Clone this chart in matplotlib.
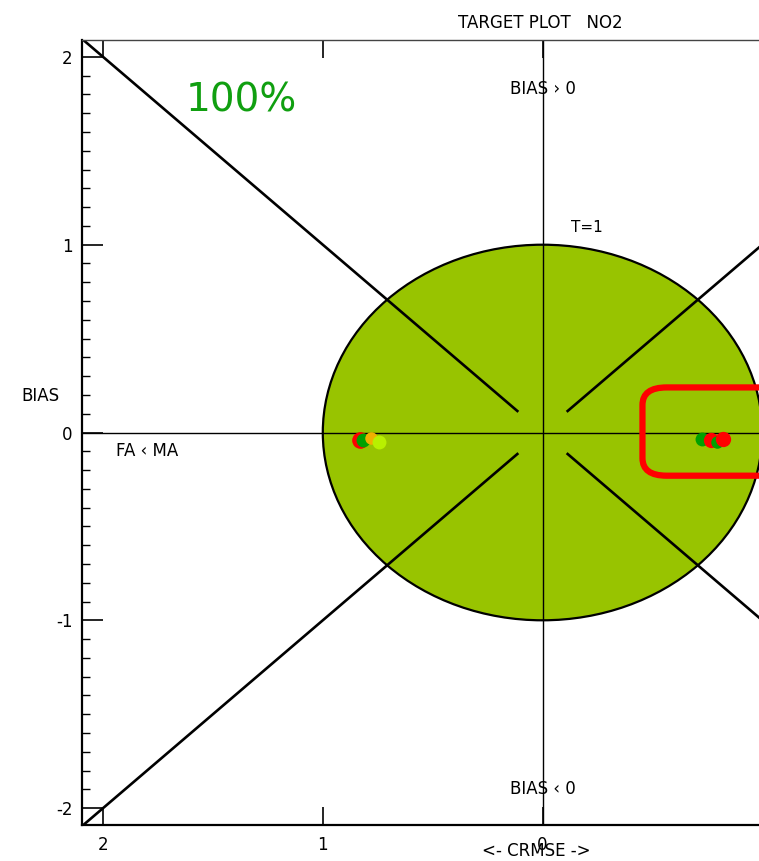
import matplotlib
matplotlib.use("Agg")
import matplotlib.pyplot as plt
import numpy as np
from matplotlib.patches import Ellipse, FancyBboxPatch

# ---- data ----
x_ticks = [2, 1, 0, -1]
x_tick_labels = ["2", "1", "0", "1"]
y_ticks = [2, 1, 0, -1, -2]
y_tick_labels = ["2", "1", "0", "-1", "-2"]

# stations (CRMSE signed, BIAS)
pts_x = [0.83, 0.815, 0.78, 0.745, -0.727, -0.768, -0.795, -0.823]
pts_y = [-0.04, -0.04, -0.03, -0.05, -0.032, -0.04, -0.048, -0.035]
pts_c = ["#ff0000", "#00a000", "#f0b000", "#b8f000",
         "#00a000", "#ff0000", "#00a000", "#ff0000"]
pts_s = [12, 10, 9, 10, 10, 11, 9, 11]

target_radius = 1.0
percent_text = "100%"
title = "TARGET PLOT   NO2"

W, H = 759, 861
fig = plt.figure(figsize=(W / 100, H / 100), dpi=100)
# axes extends beyond the right edge of the figure (cropped chart)
left_px, right_px, top_px, bot_px = 82, 1003, 40, 825
ax = fig.add_axes([left_px / W, 1 - bot_px / H, (right_px - left_px) / W, (bot_px - top_px) / H])
ax.set_xlim(2.096, -2.096)
ax.set_ylim(-2.09, 2.09)

# target circle
circ = Ellipse((0, 0), 2 * target_radius, 2 * target_radius, facecolor="#98c400",
               edgecolor="black", linewidth=1.6, zorder=1)
ax.add_patch(circ)

# axes through origin
ax.axhline(0, color="black", linewidth=1.0, zorder=2)
ax.axvline(0, color="black", linewidth=1.0, zorder=2)

# diagonals with a gap near origin
r0, r1 = 0.11, 2.2
for sx in (1, -1):
    for sy in (1, -1):
        ax.plot([sx * r0, sx * r1], [sy * r0, sy * r1], color="black", linewidth=1.9,
                zorder=2, solid_capstyle="butt")

# red rounded rectangle
box = FancyBboxPatch((-1.6, -0.23), 1.6 - 0.455, 0.47,
                     boxstyle="round,pad=0,rounding_size=0.11", mutation_aspect=0.85,
                     facecolor="none", edgecolor="#ff0000", linewidth=4.5, zorder=3)
ax.add_patch(box)

# points
for x, y, c, s in zip(pts_x, pts_y, pts_c, pts_s):
    ax.plot(x, y, "o", color=c, markersize=s, markeredgewidth=0, zorder=4)

# ticks
ax.set_xticks(x_ticks)
ax.set_xticklabels(x_tick_labels)
ax.set_yticks(y_ticks)
ax.set_yticklabels(y_tick_labels)
ax.set_yticks(np.round(np.arange(-2.0, 2.01, 0.1), 2), minor=True)
ax.tick_params(axis="y", which="major", direction="in", length=15, width=1.2,
               labelsize=12, pad=7, left=True, right=False)
ax.tick_params(axis="y", which="minor", direction="in", length=6, width=1.0)
ax.tick_params(axis="x", which="major", direction="in", length=13, width=1.2,
               labelsize=12, pad=8, top=True, bottom=True)
for name, s in ax.spines.items():
    s.set_linewidth(1.6 if name in ("left", "bottom") else 1.0)
ax.spines["top"].set_color("#444444")

# texts
ax.text(0, 1.83, "BIAS › 0", ha="center", va="center", fontsize=12)
ax.text(0, -1.9, "BIAS ‹ 0", ha="center", va="center", fontsize=12)
ax.text(-0.2, 1.09, "T=1", ha="center", va="center", fontsize=11)
ax.text(1.8, -0.1, "FA ‹ MA", ha="center", va="center", fontsize=12)
ax.text(1.37, 1.77, percent_text, ha="center", va="center", fontsize=28, color="#109f10")
fig.text(40 / W, 1 - 396 / H, "BIAS", ha="center", va="center", fontsize=12)
fig.text(536 / W, 1 - 851 / H, "<- CRMSE ->", ha="center", va="center", fontsize=12)
fig.text(540 / W, 1 - 23 / H, title, ha="center", va="center", fontsize=12)

fig.savefig("out.png", dpi=100)
